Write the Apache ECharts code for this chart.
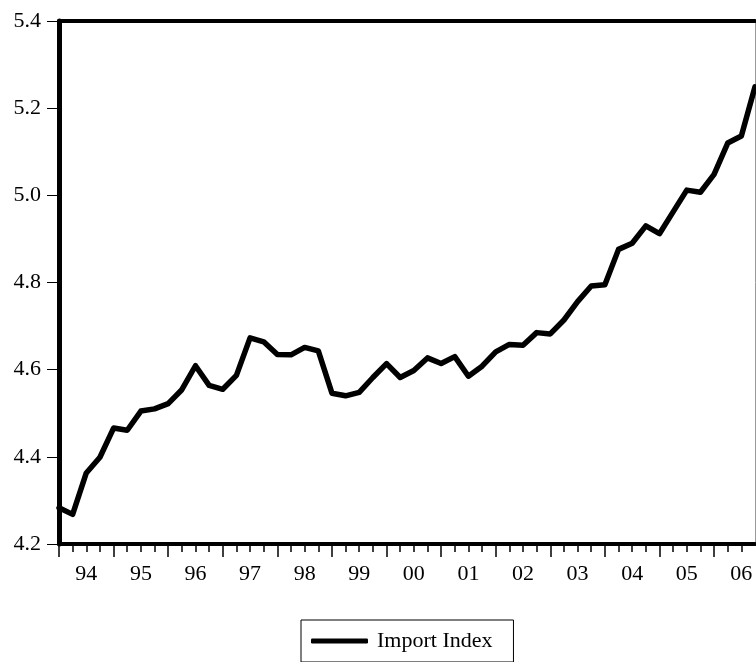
<!DOCTYPE html>
<html>
<head>
<meta charset="utf-8">
<script src="https://cdn.jsdelivr.net/npm/echarts@6/dist/echarts.min.js"></script>
<style>
html, body { margin: 0; padding: 0; background: #fff; }
#chart { width: 756px; height: 662px; }
</style>
</head>
<body>
<div id="chart"></div>
<script>
// year labels, one per 4 quarters (1994Q1 .. 2006Q4)
var yearLabels = ['94', '95', '96', '97', '98', '99', '00', '01', '02', '03', '04', '05', '06'];
// quarterly import index
var importIndex = [
  4.283, 4.268, 4.363, 4.399, 4.466, 4.461, 4.505, 4.510, 4.522, 4.554, 4.609, 4.564,
  4.555, 4.587, 4.673, 4.664, 4.635, 4.634, 4.651, 4.643, 4.546, 4.540, 4.548, 4.582,
  4.614, 4.582, 4.598, 4.627, 4.614, 4.630, 4.585, 4.608, 4.641, 4.658, 4.656, 4.685,
  4.682, 4.714, 4.756, 4.792, 4.795, 4.876, 4.890, 4.930, 4.912, 4.962, 5.012, 5.007,
  5.048, 5.120, 5.136, 5.249
];
var yMin = 4.2, yMax = 5.4, yStep = 0.2;

var chart = echarts.init(document.getElementById('chart'));
var font = '"Liberation Serif", "Times New Roman", serif';
var lastQ = importIndex.length - 1;
var majorTicks = yearLabels.map(function (y, i) { return i * 4; });
var labelPos = yearLabels.map(function (y, i) { return i * 4 + 2; });

chart.setOption({
  animation: false,
  grid: { left: 59, right: 1, top: 21, bottom: 118 },
  legend: {
    left: 301,
    top: 620,
    padding: [10, 21, 10, 10],
    borderColor: '#000',
    borderWidth: 1,
    itemWidth: 57,
    itemHeight: 5,
    icon: 'roundRect',
    itemStyle: { color: '#000' },
    textStyle: { color: '#000', fontFamily: font, fontSize: 22, padding: [0, 0, 0, 4] },
    data: ['Import Index']
  },
  xAxis: [
    {
      type: 'value',
      min: 0,
      max: lastQ,
      interval: 4,
      position: 'bottom',
      axisLine: { show: true, onZero: false, lineStyle: { color: '#000', width: 4 } },
      axisTick: { show: true, length: 13, customValues: majorTicks, lineStyle: { color: '#000', width: 1.5 } },
      minorTick: { show: true, splitNumber: 4, length: 8, lineStyle: { color: '#000', width: 1.5 } },
      axisLabel: {
        customValues: labelPos,
        formatter: function (v) { return yearLabels[Math.round((v - 2) / 4)]; },
        color: '#000',
        fontFamily: font,
        fontSize: 22,
        margin: 19
      },
      splitLine: { show: false },
      minorSplitLine: { show: false }
    },
    {
      type: 'value',
      min: 0,
      max: lastQ,
      position: 'top',
      axisLine: { show: true, onZero: false, lineStyle: { color: '#000', width: 4 } },
      axisTick: { show: false },
      axisLabel: { show: false },
      splitLine: { show: false }
    }
  ],
  yAxis: [
    {
      type: 'value',
      min: yMin,
      max: yMax,
      interval: yStep,
      position: 'left',
      axisLine: { show: true, onZero: false, lineStyle: { color: '#000', width: 5 } },
      axisTick: { show: true, length: 12, lineStyle: { color: '#000', width: 1 } },
      axisLabel: {
        formatter: function (v) { return v.toFixed(1); },
        color: '#000',
        fontFamily: font,
        fontSize: 22,
        margin: 18
      },
      splitLine: { show: false }
    },
    {
      type: 'value',
      min: yMin,
      max: yMax,
      position: 'right',
      axisLine: { show: true, onZero: false, lineStyle: { color: '#999', width: 1 } },
      axisTick: { show: false },
      axisLabel: { show: false },
      splitLine: { show: false }
    }
  ],
  series: [
    {
      name: 'Import Index',
      type: 'line',
      data: importIndex.map(function (v, i) { return [i, v]; }),
      showSymbol: false,
      symbol: 'none',
      lineStyle: { color: '#000', width: 5.5, cap: 'round', join: 'round' },
      itemStyle: { color: '#000' }
    }
  ]
});
</script>
</body>
</html>
